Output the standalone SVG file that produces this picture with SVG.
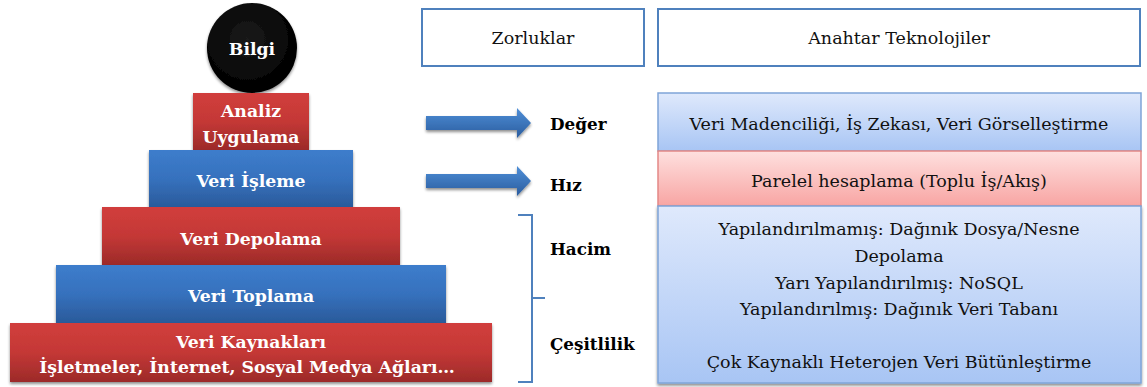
<svg xmlns="http://www.w3.org/2000/svg" width="1147" height="387" viewBox="0 0 1147 387">
  <defs>
    <linearGradient id="gRed" x1="0" y1="0" x2="0" y2="1">
      <stop offset="0" stop-color="#d13e3c"/>
      <stop offset="0.5" stop-color="#c43836"/>
      <stop offset="1" stop-color="#9c2a29"/>
    </linearGradient>
    <linearGradient id="gBlue" x1="0" y1="0" x2="0" y2="1">
      <stop offset="0" stop-color="#3d7dcc"/>
      <stop offset="0.5" stop-color="#3671bd"/>
      <stop offset="1" stop-color="#2a5a9a"/>
    </linearGradient>
    <linearGradient id="gPale" x1="0" y1="0" x2="0" y2="1">
      <stop offset="0" stop-color="#dfe9fc"/>
      <stop offset="1" stop-color="#a8c5f4"/>
    </linearGradient>
    <linearGradient id="gPink" x1="0" y1="0" x2="0" y2="1">
      <stop offset="0" stop-color="#fee0df"/>
      <stop offset="1" stop-color="#f8a5a3"/>
    </linearGradient>
    <linearGradient id="gArrow" x1="0" y1="0" x2="0" y2="1">
      <stop offset="0" stop-color="#4f8fd8"/>
      <stop offset="1" stop-color="#2a5c9e"/>
    </linearGradient>
    <radialGradient id="gBall" cx="0.45" cy="0.4" r="0.6">
      <stop offset="0" stop-color="#1a1a1a"/>
      <stop offset="1" stop-color="#000"/>
    </radialGradient>
    <filter id="shadow" x="-10%" y="-10%" width="120%" height="130%">
      <feGaussianBlur in="SourceAlpha" stdDeviation="1.5"/>
      <feOffset dx="0" dy="2" result="b"/>
      <feComponentTransfer><feFuncA type="linear" slope="0.45"/></feComponentTransfer>
      <feMerge><feMergeNode/><feMergeNode in="SourceGraphic"/></feMerge>
    </filter>
  </defs>
  <style>
    text { font-family: 'DejaVu Serif', 'Liberation Serif', serif; }
    .lvl { font-weight: bold; font-size: 17.3px; fill: #fff; text-anchor: middle; }
    .ch { font-weight: bold; font-size: 16.8px; fill: #000; }
    .tx { font-size: 17.5px; fill: #111; text-anchor: middle; }
    .hdr { fill: #fff; stroke: #4f81bd; stroke-width: 2; }
    .red { fill: url(#gRed); filter: url(#shadow); }
    .blue { fill: url(#gBlue); filter: url(#shadow); }
    .panel { stroke: #7fa4d8; stroke-width: 1.5; }
  </style>

  <rect width="1147" height="387" fill="#fff"/>

  <!-- Pyramid -->
  <g id="bilgi">
    <circle cx="252" cy="48" r="45" fill="url(#gBall)" filter="url(#shadow)"/>
    <text class="lvl" x="252" y="55">Bilgi</text>
  </g>
  <g id="analiz">
    <rect class="red" x="193" y="93" width="116" height="57"/>
    <text class="lvl" x="251" y="117">Analiz</text>
    <text class="lvl" x="251" y="143">Uygulama</text>
  </g>
  <g id="isleme">
    <rect class="blue" x="149" y="150" width="204" height="58"/>
    <text class="lvl" x="251" y="187">Veri İşleme</text>
  </g>
  <g id="depolama">
    <rect class="red" x="102" y="207" width="298" height="58"/>
    <text class="lvl" x="251" y="245">Veri Depolama</text>
  </g>
  <g id="toplama">
    <rect class="blue" x="56" y="265" width="390" height="58"/>
    <text class="lvl" x="251" y="302">Veri Toplama</text>
  </g>
  <g id="kaynaklar">
    <rect class="red" x="10" y="323" width="482" height="59"/>
    <text class="lvl" x="251" y="348">Veri Kaynakları</text>
    <text class="lvl" x="247" y="373">İşletmeler, İnternet, Sosyal Medya Ağları…</text>
  </g>

  <!-- Column headers -->
  <g id="zorluklar">
    <rect class="hdr" x="422" y="9" width="222" height="57"/>
    <text class="tx" x="533" y="44">Zorluklar</text>
  </g>
  <g id="teknolojiler">
    <rect class="hdr" x="658" y="9" width="482" height="57"/>
    <text class="tx" x="899" y="44">Anahtar Teknolojiler</text>
  </g>

  <!-- Connectors -->
  <g id="connectors">
    <path d="M426,116 H517 V108 L531,123 L517,138 V130 H426 Z" fill="url(#gArrow)" filter="url(#shadow)"/>
    <path d="M426,174 H517 V166 L531,181 L517,196 V188 H426 Z" fill="url(#gArrow)" filter="url(#shadow)"/>
    <path d="M518,215 H532 V382 H518 M532,298 H545" fill="none" stroke="#4f81bd" stroke-width="2"/>
  </g>

  <!-- Challenges -->
  <g id="deger"><text class="ch" x="550" y="130">Değer</text></g>
  <g id="hiz"><text class="ch" x="550" y="191">Hız</text></g>
  <g id="hacim"><text class="ch" x="550" y="255">Hacim</text></g>
  <g id="cesitlilik"><text class="ch" x="550" y="350">Çeşitlilik</text></g>

  <!-- Technology panels -->
  <g id="tek-deger">
    <rect class="panel" x="658" y="93" width="483" height="58" fill="url(#gPale)"/>
    <text class="tx" x="899" y="130">Veri Madenciliği, İş Zekası, Veri Görselleştirme</text>
  </g>
  <g id="tek-hiz">
    <rect x="658" y="151" width="483" height="55" fill="url(#gPink)" stroke="#e38886" stroke-width="1.5"/>
    <text class="tx" x="899" y="187">Parelel hesaplama (Toplu İş/Akış)</text>
  </g>
  <g id="tek-hacim">
    <rect class="panel" x="658" y="206" width="483" height="177" fill="url(#gPale)" filter="url(#shadow)"/>
    <text class="tx" x="899" y="235">Yapılandırılmamış: Dağınık Dosya/Nesne</text>
    <text class="tx" x="899" y="262">Depolama</text>
    <text class="tx" x="899" y="289">Yarı Yapılandırılmış: NoSQL</text>
    <text class="tx" x="899" y="315">Yapılandırılmış: Dağınık Veri Tabanı</text>
    <text class="tx" x="899" y="368">Çok Kaynaklı Heterojen Veri Bütünleştirme</text>
  </g>
</svg>
